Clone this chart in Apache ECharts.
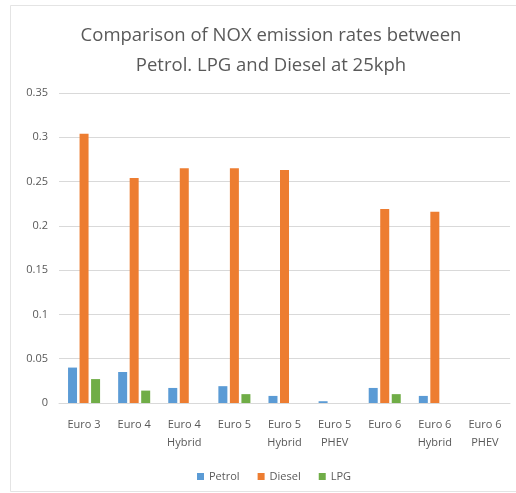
<!DOCTYPE html>
<html>
<head>
<meta charset="utf-8">
<script src="https://cdn.jsdelivr.net/npm/echarts@6/dist/echarts.min.js"></script>
<style>html,body{margin:0;padding:0;background:#fff}#c{width:516px;height:493px}</style>
</head>
<body>
<div id="c"></div>
<script>
const categories = ['Euro 3','Euro 4','Euro 4\nHybrid','Euro 5','Euro 5\nHybrid','Euro 5\nPHEV','Euro 6','Euro 6\nHybrid','Euro 6\nPHEV'];
const petrol = [0.040, 0.035, 0.017, 0.019, 0.008, 0.002, 0.017, 0.008, 0];
const diesel = [0.304, 0.254, 0.265, 0.265, 0.263, 0, 0.219, 0.216, 0];
const lpg    = [0.027, 0.014, 0, 0.010, 0, 0, 0.010, 0, 0];
const yTicks = [0, 0.05, 0.1, 0.15, 0.2, 0.25, 0.3, 0.35];

const chart = echarts.init(document.getElementById('c'), null, {renderer:'canvas'});
const font = '"Open Sans", "Liberation Sans", sans-serif';
chart.setOption({
  animation: false,
  backgroundColor: '#fff',
  graphic: [{type:'rect', shape:{x:10.5,y:5.5,width:510,height:486}, style:{fill:'none', stroke:'#e4e4e4', lineWidth:1}, silent:true}],
  title: {
    text: 'Comparison of NOX emission rates between\nPetrol. LPG and Diesel at 25kph',
    left: 266, top: 16, textAlign: 'center',
    textStyle: {fontFamily: font, fontSize: 18.5, fontWeight: 'normal', color: '#595959', lineHeight: 30}
  },
  legend: {
    data: ['Petrol','Diesel','LPG'],
    left: 192, top: 466,
    itemWidth: 7, itemHeight: 7, itemGap: 18, icon: 'rect',
    textStyle: {fontFamily: font, fontSize: 11, color: '#595959'}
  },
  grid: {left: 59, right: 6, top: 93, bottom: 90, containLabel: false},
  xAxis: {
    type: 'category', data: categories,
    axisLine: {lineStyle: {color: '#d9d9d9'}},
    axisTick: {show: false},
    axisLabel: {fontFamily: font, fontSize: 11, color: '#595959', lineHeight: 18, margin: 13, interval: 0}
  },
  yAxis: {
    type: 'value', min: 0, max: 0.35, interval: 0.05,
    axisLine: {show: false}, axisTick: {show: false},
    splitLine: {lineStyle: {color: '#d9d9d9'}},
    axisLabel: {fontFamily: font, fontSize: 11, color: '#595959', margin: 11,
      formatter: v => { const t = yTicks.find(x => Math.abs(x - v) < 1e-9); return String(t !== undefined ? t : +v.toFixed(2)); }}
  },
  series: [
    {name:'Petrol', type:'bar', data: petrol, barWidth: 9, barGap: '28%', itemStyle:{color:'#5B9BD5'}},
    {name:'Diesel', type:'bar', data: diesel, barWidth: 9, barGap: '28%', itemStyle:{color:'#ED7D31'}},
    {name:'LPG', type:'bar', data: lpg, barWidth: 9, barGap: '28%', itemStyle:{color:'#70AD47'}}
  ]
});
</script>
</body>
</html>
